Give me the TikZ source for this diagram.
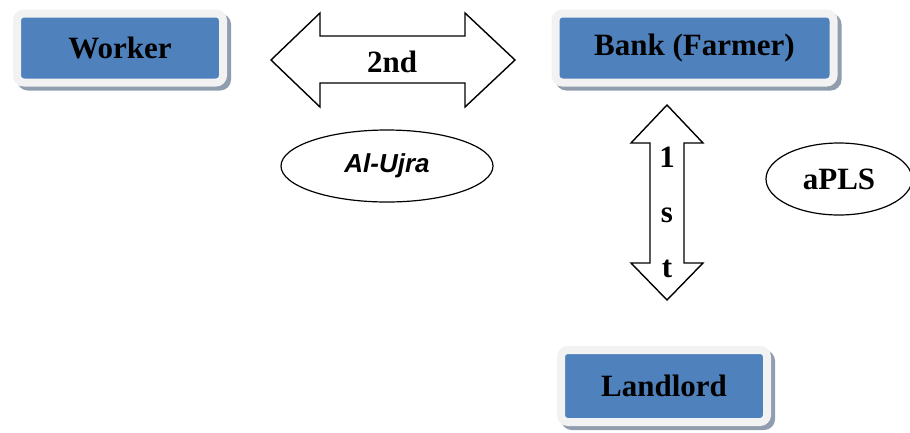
\documentclass[tikz,border=0pt]{standalone}
\usepackage{fontspec}
\usetikzlibrary{shapes.geometric}
\setmainfont{Liberation Serif}
\newfontfamily\arialfont{Liberation Sans}
\definecolor{boxblue}{HTML}{4F81BD}
\definecolor{boxrim}{HTML}{F2F2F2}
\definecolor{boxshadow}{HTML}{909DAE}
\begin{document}
\begin{tikzpicture}[x=1pt,y=-1pt,
  actor/.style={rectangle, rounded corners=7pt, fill=boxblue, draw=boxrim, line width=8pt,
    font=\fontsize{31}{36}\selectfont\bfseries, text=black, inner sep=0pt,
    preaction={draw=boxshadow, fill=boxshadow, line width=8pt, transform canvas={shift={(4pt,-4pt)}}}},
  fatarrow/.style={draw=black, line width=1.4pt, fill=white, line join=miter},
  bubble/.style={ellipse, draw=black, line width=1.2pt, inner sep=0pt},
  lbl/.style={font=\fontsize{31}{36}\selectfont\bfseries, inner sep=0pt}
]
\useasboundingbox (0,0) rectangle (910,432);
% boxes
\node[actor, minimum width=206pt, minimum height=69pt] (worker) at (120,48) {Worker};
\node[actor, minimum width=278pt, minimum height=69pt] (bank) at (694.5,48) {Bank (Farmer)};
\node[actor, minimum width=206pt, minimum height=72pt] (landlord) at (664,386) {Landlord};
% horizontal double arrow
\draw[fatarrow] (271,60) -- (320,13) -- (320,36) -- (465,36) -- (465,13) -- (515,60)
  -- (465,107) -- (465,83) -- (320,83) -- (320,107) -- cycle;
\node[lbl] (second) at (392,62) {2nd};
% vertical double arrow
\draw[fatarrow] (667,105) -- (703,143) -- (684,143) -- (684,263) -- (703,263) -- (667,300)
  -- (631,263) -- (650,263) -- (650,143) -- (631,143) -- cycle;
\node[lbl, align=center, font=\fontsize{31}{55}\selectfont\bfseries] (first) at (667,212) {1\\s\\t};
% ellipses
\node[bubble, minimum width=212pt, minimum height=72pt, font=\arialfont\fontsize{26}{30}\selectfont\bfseries\itshape] (ujra) at (387,166) {Al-Ujra};
\node[bubble, minimum width=146pt, minimum height=72pt, font=\fontsize{31}{36}\selectfont\bfseries] (apls) at (839,179) {aPLS};
\end{tikzpicture}
\end{document}
